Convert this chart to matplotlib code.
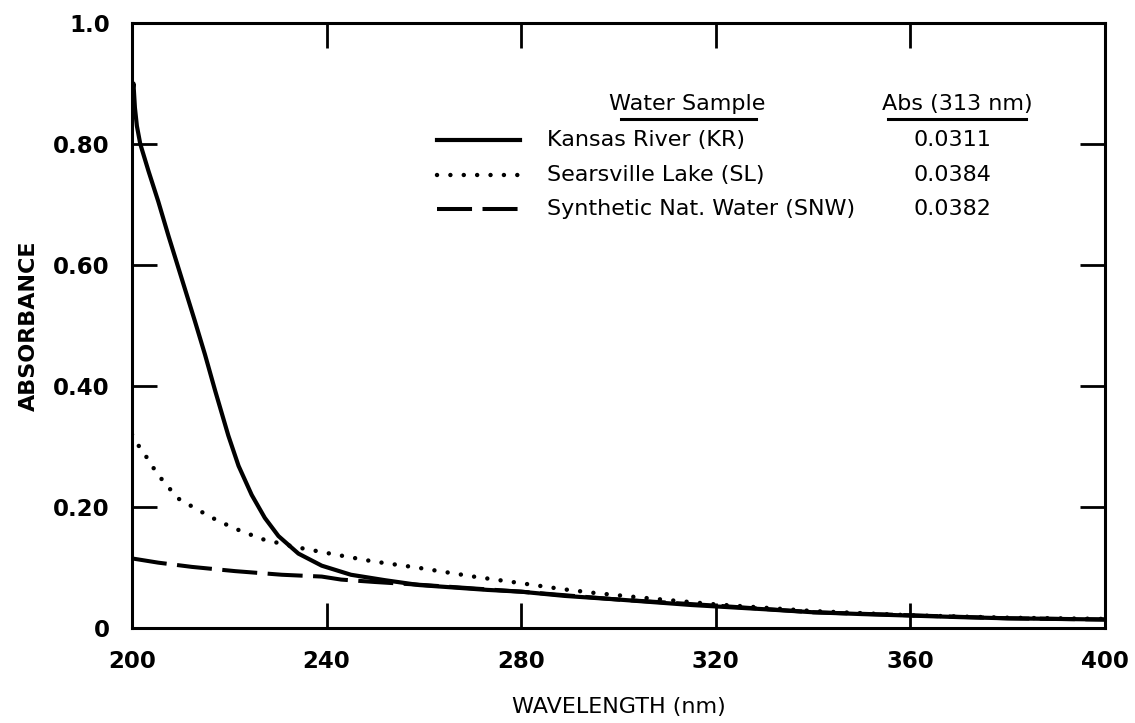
import numpy as np
import matplotlib
matplotlib.use("Agg")
import matplotlib.pyplot as plt

# Kansas River (KR)
kr_wl = [200, 200.3, 200.6, 201, 201.7, 203.4, 205.4, 207.5, 210.2, 212.9, 215, 217.1,
         219.8, 221.9, 224.6, 227.3, 230.1, 234.2, 239, 245, 252, 259, 266, 273,
         280, 289, 300, 315, 330, 340, 350, 358, 370, 380, 390, 400]
kr_abs = [0.88, 0.90, 0.86, 0.83, 0.80, 0.755, 0.705, 0.648, 0.578, 0.508, 0.452, 0.392,
          0.318, 0.268, 0.220, 0.182, 0.152, 0.123, 0.103, 0.088, 0.079, 0.071, 0.067, 0.063,
          0.060, 0.053, 0.047, 0.038, 0.031, 0.026, 0.023, 0.021, 0.018, 0.016, 0.015, 0.014]

# Searsville Lake (SL)
sl_wl = [200, 201.3, 202.7, 205.1, 206.8, 209.5, 213.6, 217.7, 221.9, 226.7, 233.5,
         240.7, 249.6, 258.5, 270.2, 280, 288.7, 295, 305, 320, 340, 360, 380, 400]
sl_abs = [0.32, 0.302, 0.286, 0.256, 0.239, 0.214, 0.195, 0.177, 0.162, 0.147, 0.134,
          0.123, 0.110, 0.100, 0.085, 0.074, 0.064, 0.058, 0.050, 0.039, 0.028, 0.021, 0.017, 0.015]

# Synthetic Nat. Water (SNW)
snw_wl = [200, 205.4, 212.3, 221.2, 230.8, 239, 243, 250, 260, 280, 300, 320, 340, 360, 380, 400]
snw_abs = [0.115, 0.108, 0.101, 0.094, 0.088, 0.085, 0.080, 0.076, 0.071, 0.060, 0.047,
           0.037, 0.026, 0.021, 0.016, 0.014]

samples = ["Kansas River (KR)", "Searsville Lake (SL)", "Synthetic Nat. Water (SNW)"]
abs313 = ["0.0311", "0.0384", "0.0382"]

xticks = [200, 240, 280, 320, 360, 400]
yticks = [0, 0.2, 0.4, 0.6, 0.8, 1.0]
ytick_labels = ["0", "0.20", "0.40", "0.60", "0.80", "1.0"]

plt.rcParams['font.family'] = ['DejaVu Sans']

fig = plt.figure(figsize=(11.35, 7.23), dpi=100)
ax = fig.add_axes([0.1163, 0.1314, 0.8573, 0.8368])

kr_style = dict(color='black', lw=3.0, linestyle='-')
sl_style = dict(color='black', lw=3.2, linestyle=(0, (0.01, 3.0)), dash_capstyle='round')
snw_style = dict(color='black', lw=2.9, linestyle=(0, (8.7, 2.6)), dash_capstyle='butt')

ax.plot(kr_wl, kr_abs, **kr_style)
ax.plot(sl_wl, sl_abs, **sl_style)
ax.plot(snw_wl, snw_abs, **snw_style)

ax.set_xlim(200, 400)
ax.set_ylim(0, 1.0)
ax.set_xticks(xticks)
ax.set_xticklabels([str(t) for t in xticks])
ax.set_yticks(yticks)
ax.set_yticklabels(ytick_labels)

for s in ax.spines.values():
    s.set_linewidth(2.2)

ax.tick_params(axis='both', direction='in', length=18, width=2.0,
               top=True, right=True, labelsize=16.5, pad=16)
for lab in ax.get_xticklabels() + ax.get_yticklabels():
    lab.set_fontweight('bold')

ax.set_xlabel("WAVELENGTH (nm)", fontsize=16, labelpad=17)
ax.set_ylabel("ABSORBANCE", fontsize=16, fontweight='bold', labelpad=10)

# legend table
ax.text(0.571, 0.866, "Water Sample", transform=ax.transAxes, fontsize=16,
        ha='center', va='center')
ax.plot([0.503, 0.641], [0.841, 0.841], transform=ax.transAxes, color='black', lw=2.2)
ax.text(0.848, 0.866, "Abs (313 nm)", transform=ax.transAxes, fontsize=16,
        ha='center', va='center')
ax.plot([0.777, 0.919], [0.841, 0.841], transform=ax.transAxes, color='black', lw=2.2)

row_y = [0.807, 0.749, 0.693]
styles = [kr_style, sl_style, snw_style]
for name, val, y, st in zip(samples, abs313, row_y, styles):
    ax.plot([0.313, 0.399], [y, y], transform=ax.transAxes, **st)
    ax.text(0.4265, y, name, transform=ax.transAxes, fontsize=16,
            ha='left', va='center')
    ax.text(0.843, y, val, transform=ax.transAxes, fontsize=16,
            ha='center', va='center')

fig.savefig("out.png", dpi=100)
